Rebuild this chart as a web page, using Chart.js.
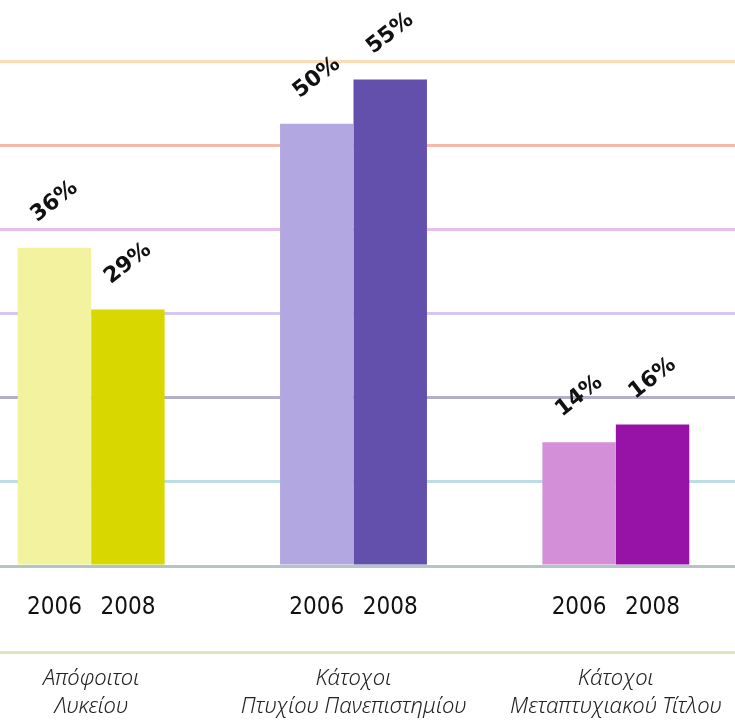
<!DOCTYPE html>
<html>
<head>
<meta charset="utf-8">
<script src="https://cdn.jsdelivr.net/npm/chart.js@4.4.1/dist/chart.umd.min.js"></script>
<style>
    body { margin: 0; background: #fff; overflow: hidden; }
    #wrap { width: 787px; height: 720px; margin-left: -40px; }
</style>
</head>
<body>
<div id="wrap"><canvas id="edu_chart"></canvas></div>
<script>
var groups = [['Απόφοιτοι', 'Λυκείου'], ['Κάτοχοι', 'Πτυχίου Πανεπιστημίου'], ['Κάτοχοι', 'Μεταπτυχιακού Τίτλου']];
var years = ['2006', '2008'];
var values2006 = [36, 50, 14];
var values2008 = [29, 55, 16];
var gridValues = [0, 9.5, 19, 28.5, 38, 47.5, 57];

var colors2006 = ['#f3f29e', '#b3a7e1', '#d390d8'];
var colors2008 = ['#d8d800', '#634fac', '#9713a7'];
var gridColors = ['#b3c6c4', '#bcdde4', '#b3aec9', '#d4c8f0', '#e8c0ec', '#f6bba8', '#fddcb5'];

// value labels above the bars + year under each bar
var barText = {
    id: 'barText',
    afterDatasetsDraw: function (chart) {
        var ctx = chart.ctx;
        var base = chart.scales.y.getPixelForValue(0);
        chart.data.datasets.forEach(function (ds, i) {
            var meta = chart.getDatasetMeta(i);
            meta.data.forEach(function (bar, j) {
                ctx.save();
                ctx.translate(bar.x, bar.y - 46);
                ctx.rotate(-38 * Math.PI / 180);
                ctx.fillStyle = '#111';
                ctx.font = 'bold 22px "DejaVu Sans", sans-serif';
                ctx.textAlign = 'center';
                ctx.textBaseline = 'middle';
                ctx.fillText(ds.data[j] + '%', 0, 0);
                ctx.restore();

                ctx.save();
                ctx.fillStyle = '#111';
                ctx.font = '24px "Liberation Sans Narrow", "DejaVu Sans Condensed", sans-serif';
                ctx.textAlign = 'center';
                ctx.textBaseline = 'middle';
                ctx.fillText(ds.label, bar.x, base + 42);
                ctx.restore();
            });
        });
    }
};

var edu_chart = document.getElementById('edu_chart');
var My_edu_chart = new Chart(edu_chart, {
    type: 'bar',
    data: {
        labels: groups,
        datasets: [{
            label: years[0],
            data: values2006,
            backgroundColor: colors2006,
            borderWidth: 0
        }, {
            label: years[1],
            data: values2008,
            backgroundColor: colors2008,
            borderWidth: 0
        }]
    },
    options: {
        responsive: true,
        maintainAspectRatio: false,
        animation: false,
        layout: { padding: 0 },
        categoryPercentage: 0.56,
        barPercentage: 1.0,
        plugins: {
            legend: { display: false },
            tooltip: { enabled: false }
        },
        scales: {
            x: {
                weight: 0,
                grid: { display: false },
                border: { display: false },
                ticks: { display: false },
                afterFit: function (s) { s.height = 86; }
            },
            x2: {
                type: 'category',
                position: 'bottom',
                weight: 1,
                labels: groups,
                offset: true,
                grid: { display: false, drawTicks: false },
                border: { display: true, color: '#dce5c0', width: 3 },
                ticks: {
                    color: '#222',
                    padding: 12,
                    maxRotation: 0,
                    font: { family: '"Noto Sans", "DejaVu Sans", sans-serif', style: 'italic', weight: 300, size: 22, lineHeight: 1.3 }
                },
                afterFit: function (s) { s.height = 68; }
            },
            y: {
                min: 0,
                max: 64,
                afterBuildTicks: function (s) {
                    s.ticks = gridValues.map(function (v) { return { value: v }; });
                },
                afterFit: function (s) { s.width = 0; },
                grid: {
                    color: function (c) { return gridColors[c.index] || 'rgba(0,0,0,0)'; },
                    lineWidth: 3,
                    drawTicks: false
                },
                border: { display: false },
                ticks: { display: false }
            }
        }
    },
    plugins: [barText]
});
</script>
</body>
</html>
